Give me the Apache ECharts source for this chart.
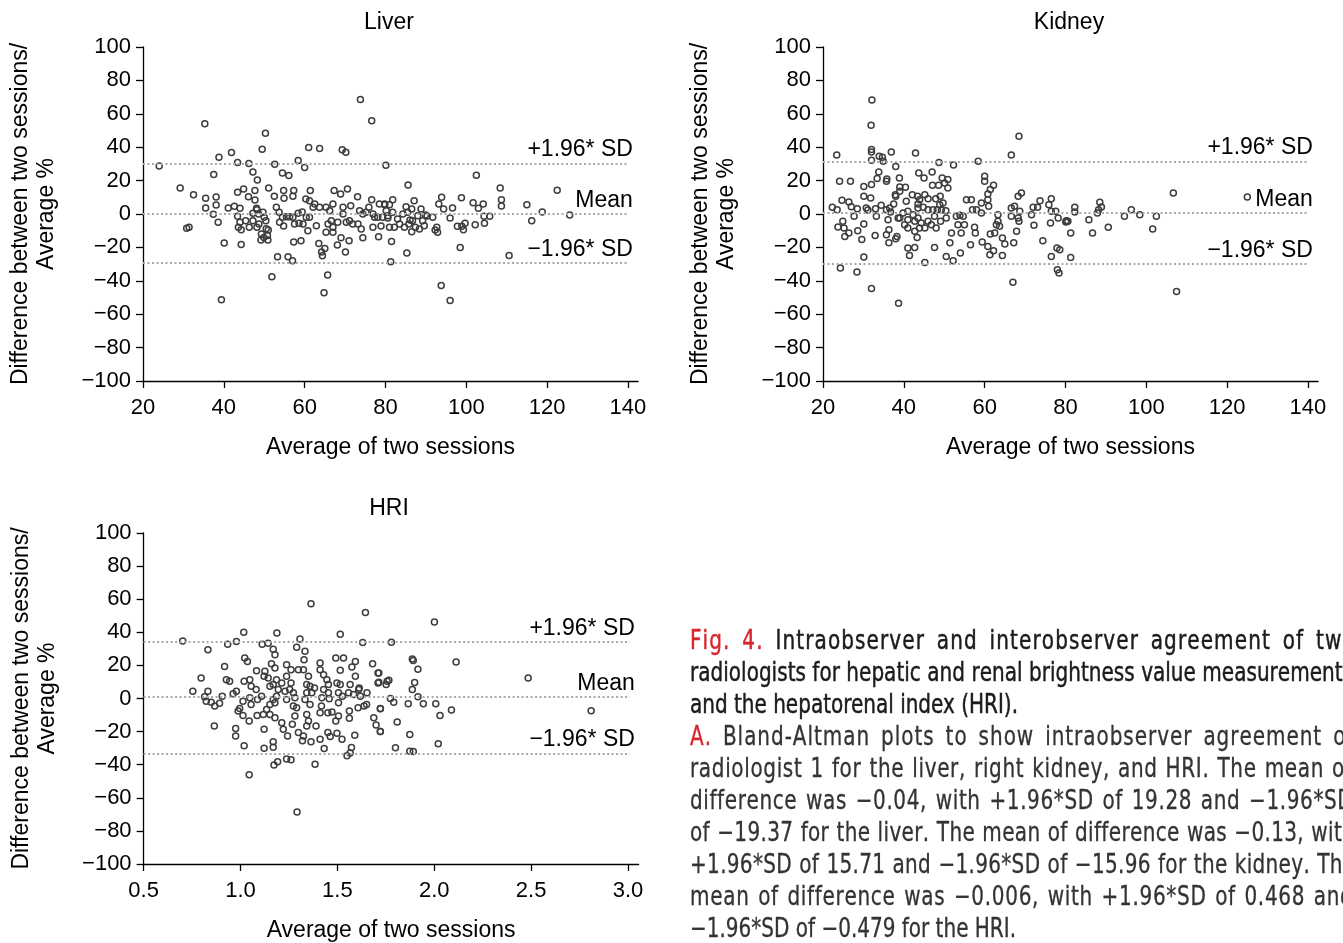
<!DOCTYPE html>
<html><head><meta charset="utf-8">
<script src="https://cdn.jsdelivr.net/npm/echarts@6/dist/echarts.min.js"></script>
<style>html,body{margin:0;padding:0;background:#fff;overflow:hidden}#c{width:1343px;height:943px}</style>
</head><body><div id="c"></div>
<script>
// ---------------- DATA ----------------
const titles = ['Liver', 'Kidney', 'HRI'];
const yTicks = [-100,-80,-60,-40,-20,0,20,40,60,80,100];
const xTicksOrgan = [20,40,60,80,100,120,140];
const xTicksHRI = [0.5,1.0,1.5,2.0,2.5,3.0];
const limitLabels = ['+1.96* SD','Mean','\u22121.96* SD'];
const liverLimits = [30.2, 0, -29.3];
const kidneyLimits = [31.5, 0.5, -29.8];
const hriLimits = [34.3, 0.8, -33.3];

const liverPoints = [
[73.8,68.6],[76.6,55.8],[35.3,54],[50.3,48.4],[49.5,38.8],[61,39.8],[63.7,39.2],[69.3,38.4],[70.2,37],[38.8,34],[41.9,36.8],[24,28.8],[43.4,30.8],[46.2,30.2],[52.6,29.8],[58.4,32],[60,27.8],[80.1,29.2],[37.5,23.6],[47.2,25.2],[54.5,24.6],[56.1,23],[48.3,20.4],[29.2,15.6],[32.5,11.6],[35.5,9.4],[38.1,10.2],[38.1,5.4],[35.5,3.6],[37.4,-0.2],[38.6,-5],[31.4,-8],[30.8,-8.6],[40.1,-17.4],[44.3,-18.2],[39.4,-51.4],[51.9,-37.6],[53.3,-25.6],[55.9,-25.6],[57,-28],[65.7,-36.6],[64.8,-47.2],[63.5,-17.6],[64.2,-22.8],[65,-20.6],[64.4,-25],[57.3,-16.8],[59.1,-16],[70.1,-22.8],[68.1,-18.6],[69,-14.2],[71,-16],[74.4,-14.2],[78.3,-13.6],[70.6,15],[73.1,10.4],[67.3,14],[68.9,12],[61.4,14],[57.3,14],[54.8,14],[51.1,15.6],[47.7,14],[44.9,15],[43.4,13],[46.1,10.4],[47.7,8.4],[52.5,10.6],[54.9,9.4],[57.1,10.6],[60.3,9],[61.2,8],
[41.1,3.6],[42.6,4.6],[44.0,3.4],[43.4,-1.4],[44.0,-5],[43.6,-8],[44.3,-9.4],[45.4,-4],[46.3,-8],[47.2,-4],[48.1,3.4],[48.2,2.6],[48.6,0],[47.2,0.4],[49.7,1],[50.0,-2],[50.4,-4],[50.5,-8.8],[49.3,-12],[49.9,-14],[50.8,-12.8],[50.9,-15.6],[49.2,-15.6],[48.2,-8],[48.7,-6],[51.0,-9.6],[53.0,4],[53.7,1],[54.5,-2],[55.5,-1.6],[54.8,-7.2],[53.8,-5],[56.3,-1.6],[57.1,-2],[58.4,0.4],[59.4,1.2],[58.6,-5.6],[57.5,-6],[59.6,-6],[60.4,-2],[61.2,-2],[60.8,-10],[62.9,-7],[62.1,4],[62.5,6],[63.7,4],[65.3,4],[66.2,2],[67.0,6],[66.6,-4],[65.8,-6],[65.3,-11],[67.0,-8],[67.0,-11],[68.2,-5],[69.5,4],[69.5,0],[70.3,-5],[71.1,-4],[71.4,5],[71.9,-6],[73.2,-6],[73.6,2],[74.0,-9],[74.4,0],[75.2,1],[75.9,4],[76.6,8.6],[76.9,0],[77.3,-2],[78.1,-2],[76.9,-8],[78.9,-7.2],[80.2,2],[80.6,-1],[78.5,6],[79.8,6],
[102.5,23.2],[85.6,17.4],[108.4,15.6],[122.5,14.2],[81.8,8.6],[87.1,8],[93.9,10],[98.8,9.8],[93.2,6],[94.4,3],[96.6,3.6],[101.7,6.8],[103.0,3.4],[104.2,6],[108.7,8.6],[108.7,4.8],[115.0,5.6],[118.8,1.2],[125.6,-0.6],[116.2,-4],[104.4,-1.4],[105.8,-1.4],[104.5,-5.6],[102.2,-6.4],[99.7,-5.6],[98.9,-7.4],[99.3,-9.4],[97.8,-7.4],[96.0,-2.4],[92.7,-8],[92.3,-9.6],[92.9,-11],[91.7,-2],[90.3,-1.2],[88.8,3],[89.9,-0.6],[89.2,-4],[88.0,-1],[86.7,-4],[86.5,3],[85.5,1],[85.1,4.4],[84.3,0],[84.7,-8],[86.5,-10.6],[87.4,-8],[88.4,-9],[89.6,-7],[85.8,-6],[86.1,-3.6],[83.5,-6],[83.0,-3],[82.2,-8],[81.0,-8],[80.6,-2.4],[81.8,1],[81.0,5.6],[79.8,5.6],[79.3,-2],[81.5,-16.4],[85.3,-23.4],[98.5,-20],[110.6,-24.8],[81.3,-28.6],[93.8,-42.8],[96.0,-51.8]
];

const kidneyPoints = [
[32.1,68.2],[31.9,53.2],[68.5,46.6],[23.4,35.4],[32.0,38.6],[32.0,37.2],[32.0,32.2],[33.9,34.6],[34.7,34],[34.9,31.6],[36.9,37.2],[42.9,36.6],[48.7,30.8],[52.3,29.4],[58.4,31.6],[66.6,35.4],[38.0,28.4],[33.8,25.2],[35.8,21],[35.7,19.6],[33.4,21.2],[32.0,17.6],[30.1,16.4],[24.1,19.6],[26.8,19.6],[38.9,21.6],[39.0,16.2],[40.4,16],[43.7,24.6],[45.0,21.6],[47.0,25.2],[47.1,17.2],[48.6,17.2],[49.5,21.6],[50.9,20.6],[50.1,18.6],[50.9,15.6],[60.0,22.6],[60.0,19.6],[62.2,17.2],[61.4,14.6],[60.8,12],[60.8,8.6],[61.0,4.6],[30.1,10.6],[31.8,9.6],[24.7,8.2],[26.4,7.2],[27.0,4.4],[28.5,3.2],[22.3,4],[23.5,2.6],[27.7,-1.4],[30.7,3.6],[31.1,2.4],[33.0,3.2],[34.4,5.2],[33.2,-1.4],[35.7,2.6],[36.5,3.6],[37.5,6],[38.0,10.6],[37.9,11.6],[39.0,13.6],[40.6,7.6],[42.1,11.6],[43.4,10.6],[43.9,8.6],[45.2,11.6],[43.5,6],[43.5,3.6],[44.8,4],[46.0,9.2],[47.9,9.2],[49.0,10.6],[49.7,6.6],[48.9,5.6],[46.0,2.6],[47.2,2.6],[48.3,2.6],[49.3,2.6],[50.4,2],[41.0,1.6],[42.3,-0.4],[39.8,0.6],[39.0,-2.4],[41.0,-3.4],[42.7,-4.4],[43.5,-2.4],[44.3,-5.4],[45.2,-8.4],[43.9,-8.4],[42.7,-10.4],[43.3,-14],[41.0,-8.4],[40.2,-6.4],[38.6,-2.4],[36.7,1.2],[36.1,-3.4],[36.3,-9.4],[35.7,-12.4],[38.3,-13.4],[38.0,-14.8],[36.3,-17.2],[32.9,-12.8],[29.6,-15.2],[30.1,-6],[28.6,-10],[26.4,-11.4],[25.4,-13.4],[25.2,-8.4],[23.7,-7.8],[24.9,-4.4],[46.0,-4.4],[46.8,-6.4],[47.6,-1.4],[48.0,-8.4],[49.1,-4.4],[50.5,-2.4],[51.8,-11.4],[51.4,-17.2],[47.6,-20],[41.0,-20.4],[41.4,-24.8],[42.7,-20],[45.2,-29],[50.5,-25.4],[52.2,-28],[54.0,-23.4],[56.5,-18.4],[53.0,-1.4],[53.9,-0.8],[54.7,-1.4],[53.4,-6.4],[55.0,-6.4],[54.2,-11.4],[55.5,8.6],[56.7,8.6],[57.0,2.6],[58.0,2.6],[59.2,0.6],[57.5,-8],[57.7,-11.4],[59.2,6.6],[59.4,-16.8],[60.8,-19.4],[61.3,-24.4],[62.2,-22],[61.4,-12],[62.5,-11.4],[63.3,-0.4],[63.3,-4.4],[62.9,-6.4],[63.7,-7.4],[64.4,-14.4],[65.0,-18],[64.4,-24.8],[67.0,-40.8],[66.6,3.6],[67.4,4.6],[66.6,-1.4],[68.3,-2.4],[68.5,-4.4],[67.9,-10.4],[67.2,-17.2],[68.3,10.6],[69.1,12.6],[68.7,1.6],[71.6,-0.4],[72.2,-6.8],[72.0,4],[73.1,4],[73.7,8],[74.4,-16],[75.9,5.6],[76.5,9.2],[76.5,1.6],[76.3,-5.4],[77.6,1.6],[78.2,-2.4],[77.9,-20.4],[76.5,-25.4],[78.0,-33.4],[78.4,-35.4],[80.1,-4.8],[30.1,-25.8],[24.3,-32.4],[28.4,-34.8],[32.0,-44.6],[38.7,-53.4],
[78.6,-21.4],[81.3,-26],[80.2,-4],[80.6,-4.4],[81.3,-11.4],[82.3,4],[82.3,1.2],[85.8,-3.4],[86.7,-11.4],[87.9,0.6],[88.2,2.6],[88.5,7],[88.9,4.2],[90.6,-8],[94.6,-1.4],[96.3,2.6],[98.4,-0.4],[101.6,-9],[102.5,-1.4],[106.7,12.6],[107.5,-46.4],[125.0,10.2]
];

const hriPoints = [
[1.364,57.2],[1.645,52],[0.702,34.8],[1.017,40],[1.188,39.6],[1.515,38.8],[1.631,33.8],[0.934,32.8],[0.979,34.4],[0.832,29.4],[1.112,32.8],[1.143,33.4],[1.169,29.8],[1.178,26.4],[1.307,36],[1.290,31],[1.333,28.6],[1.328,23.4],[1.022,24.4],[1.036,22.4],[0.918,19.4],[0.797,12.4],[0.927,11.4],[0.944,10.4],[0.979,4.4],[0.962,2.8],[0.906,1.4],[0.892,-2.8],[0.867,-4.6],[0.849,-2.2],[0.823,-1.6],[0.832,4.4],[0.754,4.4],[0.815,1],[0.865,-16.6],[0.975,-18.2],[0.975,-22.6],[1.019,-28.6],[0.996,-6],[0.988,-7.6],[1.013,-10.2],[1.045,-13.6],[1.086,-10.2],[1.122,-18.6],[1.122,-30],[1.169,-26.2],[1.169,-29.4],[1.173,-40.2],[1.192,-38.2],[1.238,-36.6],[1.261,-37],[1.045,-46],[1.292,-68.6],[1.385,-39.8],[1.019,10.4],[1.048,11.4],[1.083,16.8],[1.126,16.4],[1.122,13.4],[1.143,12.4],[1.160,21],[1.178,18.4],[1.186,11.4],[1.152,7.4],[1.169,8.4],[1.195,5.4],[1.186,1.4],[1.169,-0.6],[1.178,-2.6],[1.152,-3.6],[1.135,-6.6],[1.118,-9.6],[1.152,-9.6],[1.178,-11.6],[1.213,-14.6],[1.221,-18.6],[1.243,-22.6],[1.055,7.4],[1.081,5.4],[1.048,0.4],[1.055,-3.6],[1.013,-1.6],[1.088,-0.6],[1.109,1.4],[1.238,20.4],[1.261,17.4],[1.238,13.4],[1.213,9.4],[1.261,9.4],[1.254,5.4],[1.230,4.4],[1.238,-0.6],[1.273,3.4],[1.281,0.4],[1.273,-4.6],[1.290,-5.6],[1.281,-10.6],[1.268,-15.6],[1.299,-20.6],[1.325,-22.6],[1.320,-25.6],[1.299,17.4],[1.325,17.4],[1.351,13.4],[1.342,8.4],[1.359,7.4],[1.368,3.4],[1.342,3.4],[1.382,6.4],[1.359,-3.6],[1.333,-0.6],[1.342,-9.6],[1.351,-13.6],[1.342,-16.6],[1.364,-26.2],[1.390,-16.6],[1.411,-24.6],[1.432,-30.2],[1.411,17.4],[1.411,21.4],[1.429,14.4],[1.446,11.4],[1.454,8.4],[1.429,5.4],[1.420,0.4],[1.418,-4.6],[1.411,-8.6],[1.454,3.4],[1.458,-0.2],[1.451,-8.6],[1.472,-8.2],[1.451,-20.6],[1.463,-23],[1.498,-21],[1.492,24.4],[1.532,24.4],[1.515,17],[1.498,9.4],[1.515,8.4],[1.506,3.4],[1.526,1.4],[1.506,-2.6],[1.506,-10.6],[1.492,-13.6],[1.524,-24.6],[1.575,19],[1.593,22.4],[1.593,13.4],[1.566,8.4],[1.584,2.4],[1.610,5.4],[1.619,1.4],[1.562,-7.6],[1.562,-12],[1.590,-22.2],[1.573,-29.6],[1.550,-34.6],[1.566,-33],[1.607,-5.6],[1.638,-4.6],[1.651,-3.6],[1.653,3.4],[1.682,21],[1.710,15.4],[1.710,9.4],[1.757,10.4],[1.722,-6.2],[1.688,-11.6],[1.700,-16],[1.722,-20],[1.613,6.4],[1.558,3.4],
[2.001,46.2],[1.779,34],[1.887,23.8],[1.892,23],[2.113,22],[1.916,17.6],[1.714,15.4],[1.714,9.8],[1.766,11],[1.752,8.4],[1.899,9.6],[1.887,5.4],[2.485,12.4],[1.916,1],[1.774,0],[1.791,-2.2],[1.866,-3.2],[1.944,-3.2],[2.008,-3.2],[1.722,-6],[2.089,-7],[2.030,-10.2],[2.810,-7.4],[1.809,-14.2],[1.722,-20],[1.874,-21.8],[2.021,-27.4],[1.800,-29.8],[1.874,-31.8],[1.892,-32]
];

const captionLines = [
  {words:[['Fig.',1],['4.',1],'Intraobserver','and','interobserver','agreement','of','two'], justify:true, para:1},
  {words:['radiologists','for','hepatic','and','renal','brightness','value','measurements'], justify:true, para:1},
  {words:['and','the','hepatorenal','index','(HRI).'], justify:false, para:1},
  {words:[['A.',1],'Bland-Altman','plots','to','show','intraobserver','agreement','of'], justify:true, para:2},
  {words:['radiologist','1','for','the','liver,','right','kidney,','and','HRI.','The','mean','of'], justify:true, para:2},
  {words:['difference','was','\u22120.04,','with','+1.96*SD','of','19.28','and','\u22121.96*SD'], justify:true, para:2},
  {words:['of','\u221219.37','for','the','liver.','The','mean','of','difference','was','\u22120.13,','with'], justify:true, para:2},
  {words:['+1.96*SD','of','15.71','and','\u22121.96*SD','of','\u221215.96','for','the','kidney.','The'], justify:true, para:2},
  {words:['mean','of','difference','was','\u22120.006,','with','+1.96*SD','of','0.468','and'], justify:true, para:2},
  {words:['\u22121.96*SD','of','\u22120.479','for','the','HRI.'], justify:false, para:2}
];

// ---------------- LAYOUT ----------------
const FONT = '"Liberation Sans", Arial, Helvetica, sans-serif';
const panels = [
  {left:143, top:47, width:495, height:334, xmin:20, xmax:142.5, xend:140, ticks:xTicksOrgan, dec:0, data:liverPoints, lim:liverLimits, tx:389, ty:23},
  {left:823, top:47, width:495, height:334, xmin:20, xmax:142.5, xend:140, ticks:xTicksOrgan, dec:0, data:kidneyPoints, lim:kidneyLimits, tx:1069, ty:23},
  {left:143.6, top:533, width:495, height:334, xmin:0.5, xmax:3.055, xend:3.01, ticks:xTicksHRI, dec:1, data:hriPoints, lim:hriLimits, tx:389, ty:509}
];
const minus = s => String(s).replace('-', '\u2212');
const axisBlack = {color:'#000', width:1.3};

const grid=[], xAxis=[], yAxis=[], series=[], graphic=[];
panels.forEach((p,i)=>{
  grid.push({left:p.left, top:p.top, width:p.width, height:p.height});
  xAxis.push({type:'value', gridIndex:i, min:p.xmin, max:p.xmax,
    axisLine:{show:true, onZero:false, lineStyle:axisBlack},
    axisTick:{show:true, customValues:p.ticks, length:7, lineStyle:axisBlack},
    axisLabel:{show:true, customValues:p.ticks, color:'#000', fontSize:22, fontFamily:FONT, margin:16,
      formatter:v=>Number(v).toFixed(p.dec)},
    splitLine:{show:false},
    name:'Average of two sessions', nameLocation:'middle', nameGap:55,
    nameTextStyle:{color:'#000', fontSize:23, fontFamily:FONT}
  });
  yAxis.push({type:'value', gridIndex:i, min:-100, max:100, interval:20,
    axisLine:{show:true, onZero:false, lineStyle:axisBlack},
    axisTick:{show:true, length:7, lineStyle:axisBlack},
    axisLabel:{color:'#000', fontSize:22, fontFamily:FONT, margin:12, formatter:v=>minus(v)},
    splitLine:{show:false},
    name:'Difference between two sessions/\nAverage %', nameLocation:'middle', nameRotate:90, nameGap:83,
    nameTextStyle:{color:'#000', fontSize:23, lineHeight:26, fontFamily:FONT, align:'center'}
  });
  series.push({type:'scatter', xAxisIndex:i, yAxisIndex:i, data:p.data, symbol:'circle', symbolSize:6,
    itemStyle:{color:'rgba(0,0,0,0)', borderColor:'#3d3d3d', borderWidth:1.5, opacity:1},
    emphasis:{disabled:true}, silent:true,
    markLine:{silent:true, symbol:['none','none'], animation:false,
      lineStyle:{color:'#a8a8a8', width:2, type:[2,2.5]},
      data:p.lim.map((v,k)=>[
        {coord:[p.xmin, v], label:{show:true, formatter:limitLabels[k], position:'insideEndTop', distance:[-5,2],
           color:'#000', fontSize:23, fontFamily:FONT}},
        {coord:[p.xend, v]}
      ])
    }
  });
  graphic.push({type:'text', x:p.tx, y:p.ty, silent:true,
    style:{text:titles[i], fill:'#000', fontSize:23, fontFamily:FONT, textAlign:'center', textVerticalAlign:'middle', verticalAlign:'middle'}});
});

// ---------------- CAPTION (justified text) ----------------
function pickFont(cands){
  const c=document.createElement('canvas').getContext('2d');
  const t='abcdefghijklmnopqrstuvwxyz0123456789ABCDEFG';
  c.font='40px monospace'; const b1=c.measureText(t).width;
  c.font='40px serif'; const b2=c.measureText(t).width;
  for(const f of cands){
    c.font='40px "'+f+'", monospace'; const w1=c.measureText(t).width;
    c.font='40px "'+f+'", serif'; const w2=c.measureText(t).width;
    if(Math.abs(w1-w2)<0.01 && (Math.abs(w1-b1)>0.01 || Math.abs(w2-b2)>0.01)) return f;
  }
  return 'sans-serif';
}
const capFam = pickFont(['Liberation Sans Narrow','DejaVu Sans Condensed','Liberation Sans']);
const capSize = 26;
const mctx = document.createElement('canvas').getContext('2d');
mctx.font = capSize+'px "'+capFam+'"';
const capX = 690, capW = 662, capY0 = 642, capLH = 32;
const refLine3Width = 328; // reference width of the unjustified 3rd line
const line3Text = captionLines[2].words.join(' ');
const s0 = Math.min(1, refLine3Width / mctx.measureText(line3Text).width);
const spW = mctx.measureText(' ').width;

captionLines.forEach((ln,li)=>{
  const words = ln.words.map(w=>Array.isArray(w)?{t:w[0],red:true}:{t:w,red:false});
  const chars = words.map(w=>Array.from(w.t).map(ch=>mctx.measureText(ch).width));
  const ws = words.map(w=>mctx.measureText(w.t).width);
  const n = words.length;
  let s = s0, ls = 0, gap = spW*s0;
  const sum = ws.reduce((a,b)=>a+b,0);
  if(ln.justify){
    const letterGaps = chars.reduce((a,c)=>a+c.length-1,0);
    let extra = capW - (sum*s + (n-1)*spW*s);
    if(extra < 0){ s = capW/(sum+(n-1)*spW); extra = 0; }
    ls = Math.min(1.6, extra*0.5/Math.max(1,letterGaps));
    gap = (capW - sum*s - ls*letterGaps)/(n-1);
  }
  const y = capY0 + li*capLH;
  const fill0 = ln.para===1 ? '#1c1a1b' : '#333333';
  const sw = ln.para===1 ? 0.45 : 0.3;
  let x = capX;
  words.forEach((w,k)=>{
    const fill = w.red ? '#d7262e' : fill0;
    const st = {fill:fill, stroke:fill, lineWidth:sw, fontSize:capSize, fontFamily:capFam, textVerticalAlign:'middle', verticalAlign:'middle'};
    if(ls>0){
      const arr = Array.from(w.t);
      arr.forEach((ch,ci)=>{
        graphic.push({type:'text', x:x, y:y, scaleX:s, silent:true, style:Object.assign({text:ch}, st)});
        x += chars[k][ci]*s + (ci<arr.length-1 ? ls : 0);
      });
    } else {
      graphic.push({type:'text', x:x, y:y, scaleX:s, silent:true, style:Object.assign({text:w.t}, st)});
      x += ws[k]*s;
    }
    x += gap;
  });
});

const chart = echarts.init(document.getElementById('c'), null, {renderer:'canvas'});
chart.setOption({animation:false, backgroundColor:'#fff', grid, xAxis, yAxis, series, graphic});
</script></body></html>
